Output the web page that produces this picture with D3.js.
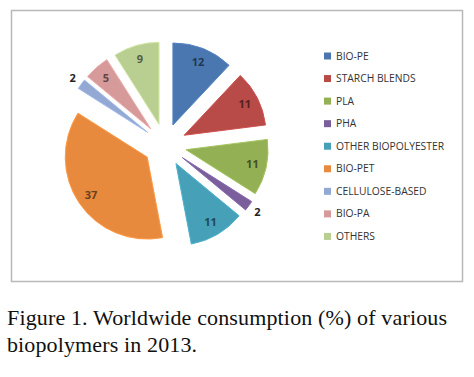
<!DOCTYPE html>
<html lang="en">
<head>
    <meta charset="UTF-8">
    <title>Worldwide consumption of biopolymers 2013</title>
    <script src="https://d3js.org/d3.v7.min.js"></script>
    <style>
        body { margin: 0; background: #fff; }
        .legend-label { font-family: "Open Sans", "DejaVu Sans", sans-serif; font-size: 10.3px; fill: #333; }
        .slice-label { font-family: "Open Sans", sans-serif; font-size: 11px; font-weight: bold; }
        .caption { font-family: "Liberation Serif", "Times New Roman", serif; font-size: 22px; fill: #111; }
    </style>
</head>
<body>
    <svg width="474" height="377"></svg>
    <script>
        // data
        const categories = ["BIO-PE", "STARCH BLENDS", "PLA", "PHA", "OTHER BIOPOLYESTER",
                            "BIO-PET", "CELLULOSE-BASED", "BIO-PA", "OTHERS"];
        const shares = [12, 11, 11, 2, 11, 37, 2, 5, 9];
        const colors = ["#4a77b0", "#b84a48", "#93b055", "#7a5f9c", "#46a0b8",
                        "#e88a3e", "#93a9d4", "#d69a9a", "#b9cf92"];
        const captionLines = ["Figure 1. Worldwide consumption (%) of various",
                              "biopolymers in 2013."];
        const captionWidths = [440, 190];

        const svg = d3.select("svg");

        // chart frame
        svg.append("rect")
            .attr("x", 11.5).attr("y", 10.5)
            .attr("width", 451).attr("height", 271)
            .attr("fill", "#fff")
            .attr("stroke", "#b8b8b8")
            .attr("stroke-width", 1.5);

        const cx = 165, cy = 145, radius = 82, explode = 21.5;

        const data = categories.map((c, i) => ({name: c, value: shares[i], color: colors[i]}));

        const pie = d3.pie().sort(null).value(d => d.value);
        const arcs = pie(data);
        const arc = d3.arc().innerRadius(0).outerRadius(radius);

        const g = svg.append("g").attr("transform", `translate(${cx},${cy})`);

        const mid = d => (d.startAngle + d.endAngle) / 2;
        const offset = (d, r) => [Math.sin(mid(d)) * r, -Math.cos(mid(d)) * r];

        const slices = g.selectAll("g.slice")
            .data(arcs)
            .enter().append("g")
            .attr("class", "slice")
            .attr("transform", d => `translate(${offset(d, explode)})`);

        slices.append("path")
            .attr("d", arc)
            .attr("fill", d => d.data.color)
            .attr("stroke", d => d3.color(d.data.color).brighter(0.3))
            .attr("stroke-width", 1);

        // labels: inside for big slices, outside for the small ones
        slices.append("text")
            .attr("class", "slice-label")
            .attr("transform", d => {
                const r = d.data.value < 3 ? radius * 1.13 : radius * 0.83;
                return `translate(${offset(d, r)})`;
            })
            .attr("text-anchor", "middle")
            .attr("dy", "0.35em")
            .attr("fill", d => d.data.value < 3 ? "#222" : d3.color(d.data.color).darker(2.2))
            .text(d => d.data.value);

        // legend
        const legend = svg.append("g").attr("transform", "translate(324,56)");
        const ly = d3.scaleBand().domain(categories).range([0, 203]).paddingInner(0);

        const items = legend.selectAll("g")
            .data(data)
            .enter().append("g")
            .attr("transform", d => `translate(0,${ly(d.name)})`);

        items.append("rect")
            .attr("x", 0).attr("y", -3.5)
            .attr("width", 7).attr("height", 7)
            .attr("fill", d => d.color);

        items.append("text")
            .attr("class", "legend-label")
            .attr("x", 12)
            .attr("dy", "0.35em")
            .text(d => d.name);

        // caption
        svg.selectAll("text.caption")
            .data(captionLines)
            .enter().append("text")
            .attr("class", "caption")
            .attr("x", 7)
            .attr("y", (d, i) => 325 + i * 26.5)
            .attr("textLength", (d, i) => captionWidths[i])
            .attr("lengthAdjust", "spacing")
            .text(d => d);
    </script>
</body>
</html>
